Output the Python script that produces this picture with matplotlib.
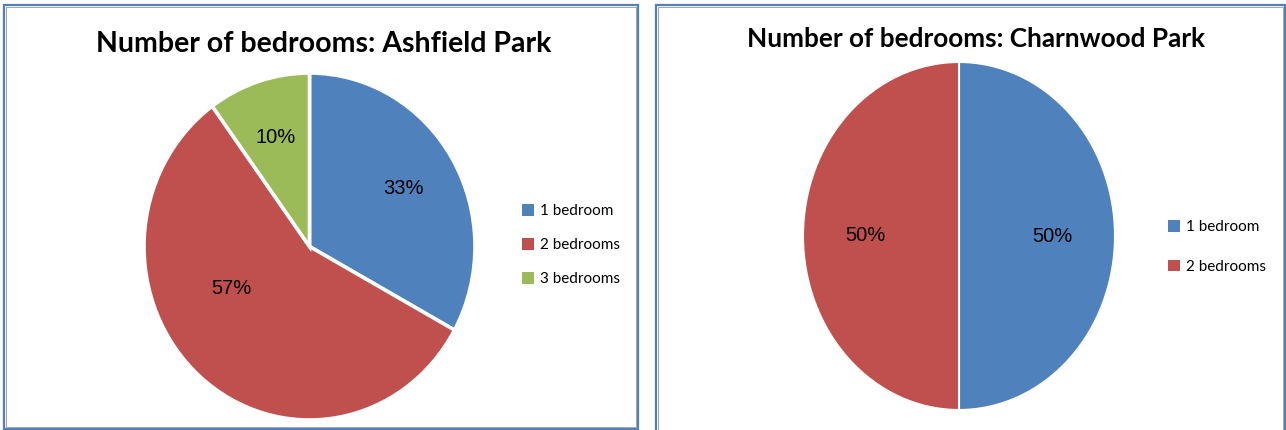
import matplotlib
matplotlib.use("Agg")
import matplotlib.pyplot as plt
from matplotlib.patches import Rectangle, Patch

### data
ashfield_labels = ["1 bedroom", "2 bedrooms", "3 bedrooms"]
ashfield_share = [33, 57, 10]
charnwood_labels = ["1 bedroom", "2 bedrooms"]
charnwood_share = [50, 50]
colours = ["#4F81BD", "#C0504D", "#9BBB59"]

W, H = 1286, 430
fig = plt.figure(figsize=(W / 100, H / 100), dpi=100)

def px(x0, y_top, x1, y_bot):
    # pixel box -> figure fraction [left, bottom, width, height]
    return [x0 / W, (H - y_bot) / H, (x1 - x0) / W, (y_bot - y_top) / H]

# chart frames (blue border with a grey inner line)
for (x0, y0, x1, y1) in [(4, 5, 638, 429), (656, 5, 1285, 434)]:
    fig.patches.append(Rectangle((x0 / W, (H - y1) / H), (x1 - x0) / W, (y1 - y0) / H,
                                 transform=fig.transFigure, fill=False,
                                 edgecolor="#4F81BD", lw=1.6))
    fig.patches.append(Rectangle(((x0 + 2) / W, (H - y1 + 2) / H), (x1 - x0 - 4) / W,
                                 (y1 - y0 - 4) / H, transform=fig.transFigure,
                                 fill=False, edgecolor="#A6A6A6", lw=0.7))

legend_kw = dict(frameon=False, prop=dict(family="Lato", size=11),
                 handlelength=0.8, handleheight=0.8, handletextpad=0.4)

### left: Ashfield Park
ax1 = fig.add_axes(px(144, 73, 475, 420))
w1, t1, p1 = ax1.pie(ashfield_share, colors=colours, startangle=90, counterclock=False,
                     autopct="%1.0f%%", pctdistance=0.66,
                     wedgeprops=dict(edgecolor="white", linewidth=2.6),
                     textprops=dict(fontsize=14.5, family="Liberation Sans", color="black"))
ax1.set_aspect("auto")
ax1.set_xlim(-1, 1)
ax1.set_ylim(-1, 1)
p1[1].set_position((-0.47, -0.24))

fig.text(324 / W, 1 - 44 / H, "Number of bedrooms: Ashfield Park", ha="center", va="center",
         fontsize=20.5, fontweight="bold", family="Lato")
h1 = [Patch(facecolor=c, edgecolor="none") for c in colours[:3]]
fig.legend(h1, ashfield_labels, loc="center left", bbox_to_anchor=(508 / W, 1 - 245 / H),
           labelspacing=1.3, **legend_kw)

### right: Charnwood Park
ax2 = fig.add_axes(px(803, 62, 1115, 410))
w2, t2, p2 = ax2.pie(charnwood_share, colors=colours[:2], startangle=90, counterclock=False,
                     autopct="%1.0f%%", pctdistance=0.6,
                     wedgeprops=dict(edgecolor="white", linewidth=1.5),
                     textprops=dict(fontsize=14.5, family="Liberation Sans", color="black"))
ax2.set_aspect("auto")
ax2.set_xlim(-1, 1)
ax2.set_ylim(-1, 1)

fig.text(976 / W, 1 - 39 / H, "Number of bedrooms: Charnwood Park", ha="center", va="center",
         fontsize=18.8, fontweight="bold", family="Lato")
h2 = [Patch(facecolor=c, edgecolor="none") for c in colours[:2]]
fig.legend(h2, charnwood_labels, loc="center left", bbox_to_anchor=(1154 / W, 1 - 247 / H),
           labelspacing=1.65, **legend_kw)

fig.savefig("out.png", dpi=100)
